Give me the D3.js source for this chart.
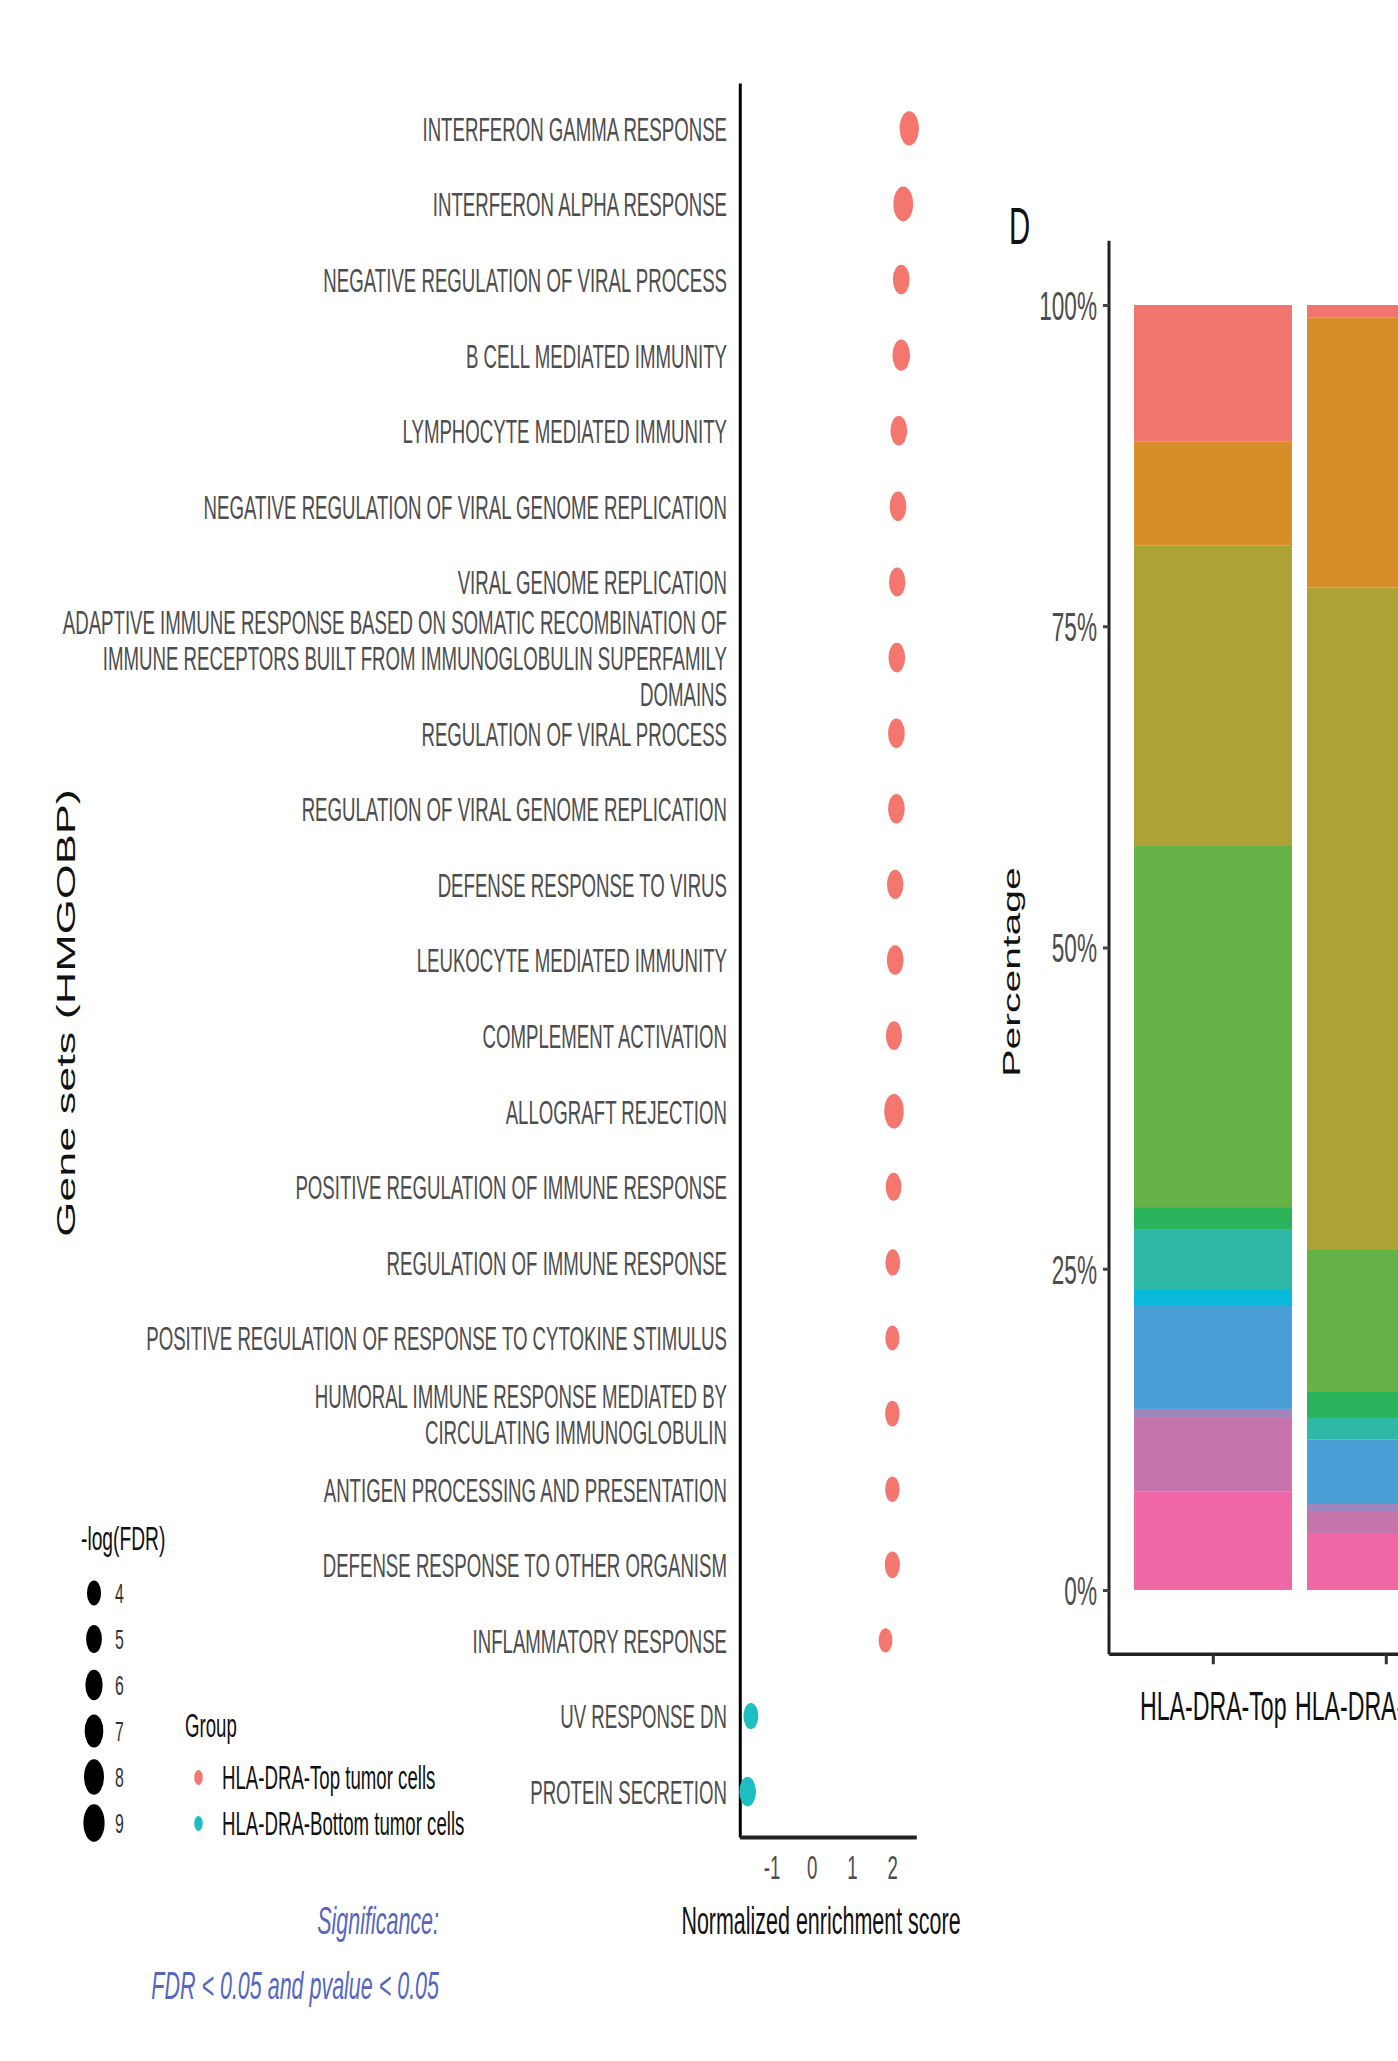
<!DOCTYPE html>
<html>
<head>
<meta charset="utf-8">
<script src="https://cdn.jsdelivr.net/npm/d3@7"></script>
<style>
  html, body { margin: 0; padding: 0; background: #fff; }
  svg { display: block; font-family: "Liberation Sans", Arial, sans-serif; }
  .ax path, .ax line { vector-effect: non-scaling-stroke; }
</style>
</head>
<body>
<div id="chart"></div>
<script>
// left panel: enriched gene sets
var geneSets = [
  "INTERFERON GAMMA RESPONSE",
  "INTERFERON ALPHA RESPONSE",
  "NEGATIVE REGULATION OF VIRAL PROCESS",
  "B CELL MEDIATED IMMUNITY",
  "LYMPHOCYTE MEDIATED IMMUNITY",
  "NEGATIVE REGULATION OF VIRAL GENOME REPLICATION",
  "VIRAL GENOME REPLICATION",
  "ADAPTIVE IMMUNE RESPONSE BASED ON SOMATIC RECOMBINATION OF\nIMMUNE RECEPTORS BUILT FROM IMMUNOGLOBULIN SUPERFAMILY\nDOMAINS",
  "REGULATION OF VIRAL PROCESS",
  "REGULATION OF VIRAL GENOME REPLICATION",
  "DEFENSE RESPONSE TO VIRUS",
  "LEUKOCYTE MEDIATED IMMUNITY",
  "COMPLEMENT ACTIVATION",
  "ALLOGRAFT REJECTION",
  "POSITIVE REGULATION OF IMMUNE RESPONSE",
  "REGULATION OF IMMUNE RESPONSE",
  "POSITIVE REGULATION OF RESPONSE TO CYTOKINE STIMULUS",
  "HUMORAL IMMUNE RESPONSE MEDIATED BY\nCIRCULATING IMMUNOGLOBULIN",
  "ANTIGEN PROCESSING AND PRESENTATION",
  "DEFENSE RESPONSE TO OTHER ORGANISM",
  "INFLAMMATORY RESPONSE",
  "UV RESPONSE DN",
  "PROTEIN SECRETION"
];
var nes = [2.42, 2.27, 2.22, 2.22, 2.16, 2.14, 2.12, 2.11, 2.10, 2.10, 2.07, 2.07, 2.04, 2.04,
           2.03, 2.01, 2.00, 2.00, 2.00, 2.00, 1.83, -1.52, -1.60];
var negLogFdr = [7.4, 7.8, 5.6, 6.2, 5.6, 5.6, 5.4, 5.6, 5.6, 5.6, 5.4, 5.6, 5.2, 7.6,
                 5.0, 4.4, 4.0, 4.2, 4.2, 4.6, 3.8, 4.4, 5.6];
var groupOf = ["top", "top", "top", "top", "top", "top", "top", "top", "top", "top", "top",
               "top", "top", "top", "top", "top", "top", "top", "top", "top", "top",
               "bottom", "bottom"];
var groupKeys = ["top", "bottom"];
var groupLabels = ["HLA-DRA-Top tumor cells", "HLA-DRA-Bottom tumor cells"];
var sizeBreaks = [4, 5, 6, 7, 8, 9];
var nesTicks = [-1, 0, 1, 2];

// right panel: composition per sample (percent, listed top of bar first)
var samples = ["HLA-DRA-Top", "HLA-DRA-Bottom"];
var clusters = ["C1", "C2", "C3", "C4", "C5", "C6", "C7", "C8", "C9", "C10", "C11"];
var topPct    = [10.64, 8.09, 23.37, 28.10, 1.71, 4.67, 1.32, 8.01, 0.70, 5.71, 7.68];
var bottomPct = [0.99, 21.01, 51.54, 11.05, 2.02, 1.66, 0.00, 5.04, 0.62, 1.71, 4.36];
var clusterColors = ["#F1756E", "#D78E29", "#ADA235", "#66B246", "#2BB35B", "#2DB9A6",
                     "#09B9DC", "#4A9ED6", "#A085BE", "#C574AC", "#EF67A4"];
var pctTicks = [0, 25, 50, 75, 100];

var W = 1398, H = 2061;
var SX = 0.565;          // the figure is squeezed horizontally
var ux = function(px) { return px / SX; };

var svg = d3.select("#chart").append("svg")
  .attr("width", W).attr("height", H)
  .attr("viewBox", [0, 0, W / SX, H])
  .attr("preserveAspectRatio", "none");

// ---------- left panel ----------
var x = d3.scaleLinear().domain([-1.8, 2.6]).range([ux(739.6), ux(916.5)]);
var y = d3.scalePoint().domain(geneSets).range([83, 1837]).padding(0.6);
var r = d3.scaleSqrt().domain([0, 9]).range([0, 18.75]);
var color = d3.scaleOrdinal().domain(groupKeys).range(["#F3766F", "#1FBEC2"]);

var yAx = svg.append("g").attr("class", "ax")
  .attr("transform", "translate(" + ux(740) + ",0)")
  .call(d3.axisLeft(y).tickSize(0).tickPadding(ux(13)));
yAx.select(".domain").attr("stroke", "#000").attr("stroke-width", 3);
yAx.selectAll("text")
  .attr("font-size", 33).attr("fill", "#4d4d4d").attr("dy", "0.36em")
  .each(function(d) {
    var lines = d.split("\n");
    if (lines.length < 2) return;
    var t = d3.select(this), tx = t.attr("x"), lh = 1.1;
    t.text(null).attr("dy", null);
    lines.forEach(function(s, i) {
      t.append("tspan").attr("x", tx)
        .attr("dy", i === 0 ? (0.36 - (lines.length - 1) / 2 * lh) + "em" : lh + "em")
        .text(s);
    });
  });

var xAx = svg.append("g").attr("class", "ax")
  .attr("transform", "translate(0,1837)")
  .call(d3.axisBottom(x).tickValues(nesTicks).tickFormat(function(d) { return String(d); })
    .tickSize(0).tickPadding(19));
xAx.select(".domain").attr("stroke", "#222").attr("stroke-width", 4);
xAx.selectAll("text").attr("font-size", 33).attr("fill", "#4d4d4d");

svg.append("text")
  .attr("x", ux(821)).attr("y", 1921).attr("dy", "0.35em")
  .attr("text-anchor", "middle").attr("font-size", 38).attr("fill", "#111")
  .text("Normalized enrichment score");

svg.append("text")
  .attr("transform", "translate(" + ux(66) + ",1013) rotate(-90)")
  .attr("dy", "0.35em").attr("text-anchor", "middle")
  .attr("font-size", 45).attr("fill", "#111")
  .text("Gene sets (HMGOBP)");

svg.append("g").selectAll("circle")
  .data(geneSets)
  .join("circle")
  .attr("cx", function(d, i) { return x(nes[i]); })
  .attr("cy", function(d) { return y(d); })
  .attr("r", function(d, i) { return r(negLogFdr[i]); })
  .attr("fill", function(d, i) { return color(groupOf[i]); });

// size legend
var sizeLeg = svg.append("g");
sizeLeg.append("text").attr("x", ux(81)).attr("y", 1550)
  .attr("font-size", 34).attr("fill", "#111").text("-log(FDR)");
var sKey = sizeLeg.selectAll("g.k").data(sizeBreaks).join("g").attr("class", "k")
  .attr("transform", function(d, i) { return "translate(0," + (1593 + i * 46) + ")"; });
sKey.append("circle").attr("cx", ux(94)).attr("r", function(d) { return r(d); }).attr("fill", "#000");
sKey.append("text").attr("x", ux(115)).attr("dy", "0.36em")
  .attr("font-size", 28).attr("fill", "#333").text(function(d) { return d; });

// group legend
var grpLeg = svg.append("g");
grpLeg.append("text").attr("x", ux(185)).attr("y", 1737)
  .attr("font-size", 33).attr("fill", "#111").text("Group");
var gKey = grpLeg.selectAll("g.k").data(groupKeys).join("g").attr("class", "k")
  .attr("transform", function(d, i) { return "translate(0," + (1777.5 + i * 46) + ")"; });
gKey.append("circle").attr("cx", ux(198.5)).attr("r", 7.5).attr("fill", function(d) { return color(d); });
gKey.append("text").attr("x", ux(222)).attr("dy", "0.36em")
  .attr("font-size", 33).attr("fill", "#111").text(function(d, i) { return groupLabels[i]; });

svg.append("text").attr("x", ux(439)).attr("y", 1921).attr("dy", "0.35em")
  .attr("text-anchor", "end").attr("font-size", 38).attr("font-style", "italic")
  .attr("fill", "#5566c0").text("Significance:");
svg.append("text").attr("x", ux(439)).attr("y", 1986).attr("dy", "0.35em")
  .attr("text-anchor", "end").attr("font-size", 38).attr("font-style", "italic")
  .attr("fill", "#5566c0").text("FDR < 0.05 and pvalue < 0.05");

// ---------- right panel (D) ----------
var xb = d3.scalePoint().domain(samples).range([ux(1213), ux(1386)]);
var bw = xb.step() * 0.913;
var yb = d3.scaleLinear().domain([0, 100]).range([1590, 305]);

var rows = samples.map(function(s, j) {
  var o = { sample: s };
  clusters.forEach(function(c, k) { o[c] = (j === 0 ? topPct : bottomPct)[k]; });
  return o;
});
var stack = d3.stack().keys(clusters.slice().reverse());
var series = stack(rows);
var fill = d3.scaleOrdinal().domain(clusters).range(clusterColors);

svg.append("g").selectAll("g")
  .data(series)
  .join("g")
  .attr("fill", function(s) { return fill(s.key); })
  .selectAll("rect")
  .data(function(s) { return s; })
  .join("rect")
  .attr("x", function(d) { return xb(d.data.sample) - bw / 2; })
  .attr("width", bw)
  .attr("y", function(d) { return yb(d[1]); })
  .attr("height", function(d) { return yb(d[0]) - yb(d[1]); });

var ybAx = svg.append("g").attr("class", "ax")
  .attr("transform", "translate(" + ux(1109) + ",0)")
  .call(d3.axisLeft(yb).tickValues(pctTicks).tickFormat(function(d) { return d + "%"; })
    .tickSize(ux(6)).tickPadding(ux(6)));
ybAx.select(".domain").attr("d", "M0," + yb(-5) + "V" + yb(105))
  .attr("stroke", "#222").attr("stroke-width", 3);
ybAx.selectAll(".tick line").attr("stroke", "#444").attr("stroke-width", 3);
ybAx.selectAll("text").attr("font-size", 40).attr("fill", "#4d4d4d").attr("dy", "0.36em");

var xbAx = svg.append("g").attr("class", "ax")
  .attr("transform", "translate(0," + yb(-5) + ")")
  .call(d3.axisBottom(xb).tickSize(10).tickPadding(27));
xbAx.select(".domain")
  .attr("d", "M" + (xb(samples[0]) - 0.6 * xb.step()) + ",0H" + (xb(samples[1]) + 0.6 * xb.step()))
  .attr("stroke", "#222").attr("stroke-width", 3.5);
xbAx.selectAll(".tick line").attr("stroke", "#333").attr("stroke-width", 3);
xbAx.selectAll("text").attr("font-size", 41).attr("fill", "#111");

svg.append("text")
  .attr("transform", "translate(" + ux(1012) + ",972) rotate(-90)")
  .attr("dy", "0.35em").attr("text-anchor", "middle")
  .attr("font-size", 41).attr("fill", "#111").text("Percentage");

svg.append("text").attr("x", ux(1009)).attr("y", 244)
  .attr("font-size", 52).attr("fill", "#111").text("D");
</script>
</body>
</html>
